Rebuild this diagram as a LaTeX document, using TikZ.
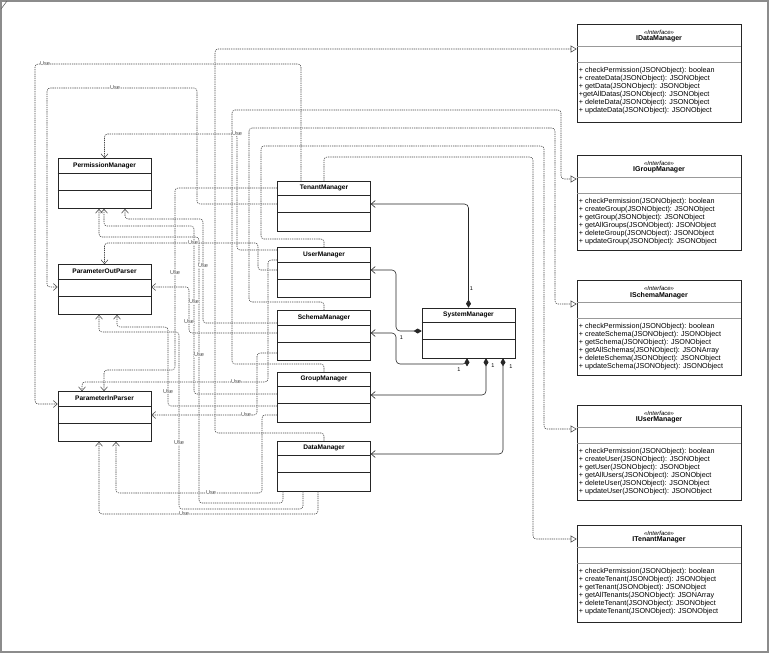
\documentclass[tikz,border=0pt]{standalone}
\usepackage{fontspec}
\setmainfont{Liberation Sans}
\usetikzlibrary{arrows.meta,calc}
\newcommand\umlclass[4]{%
  \node[cls] (#1) at (#2,#3) {};
  \node[ttl] (#1t) at ([yshift=-7.5pt]#1.north) {#4};
  \draw[div] ([yshift=-15pt]#1.north west) -- ([yshift=-15pt]#1.north east);
  \draw[div] ([yshift=-32pt]#1.north west) -- ([yshift=-32pt]#1.north east);}
\newcommand\umliface[5]{%
  \node[ifc,minimum height=#3pt] (#1) at (659,#2) {};
  \node[stereo] (#1s) at ([yshift=-8.5pt]#1.north) {<<Interface>>};
  \node[iname] (#1n) at ([yshift=-15.5pt]#1.north) {#4};
  \draw[gdiv] ([yshift=-23pt]#1.north west) -- ([yshift=-23pt]#1.north east);
  \draw[gdiv] ([yshift=-39pt]#1.north west) -- ([yshift=-39pt]#1.north east);
  \node[meth] (#1m) at ([xshift=2pt,yshift=-43.5pt]#1.north west) {#5};}
\begin{document}
\begin{tikzpicture}[x=1pt,y=-1pt,
  cls/.style={draw=black!85,line width=0.6pt,minimum width=93pt,minimum height=50pt,inner sep=0pt},
  ifc/.style={draw=black!85,line width=0.6pt,minimum width=164pt,inner sep=0pt},
  ttl/.style={font=\fontsize{6.6}{7}\selectfont\bfseries,inner sep=0pt},
  iname/.style={font=\fontsize{7}{8}\selectfont\bfseries,inner sep=0pt},
  stereo/.style={font=\fontsize{6}{7}\selectfont\itshape,inner sep=0pt},
  meth/.style={font=\fontsize{7.2}{7.9}\selectfont,align=left,anchor=north west,inner sep=0pt},
  div/.style={draw=black!85,line width=0.6pt},
  gdiv/.style={draw=black!40,line width=0.6pt},
  use/.style={draw=black!72,line width=0.55pt,dash pattern=on 1.3pt off 0.9pt,rounded corners=3pt,
     -{Straight Barb[length=4pt,width=7pt]}},
  real/.style={draw=black!72,line width=0.55pt,dash pattern=on 1.3pt off 0.9pt,rounded corners=3pt,
     -{Triangle[open,length=6pt,width=7pt]}},
  comp/.style={draw=black!85,line width=0.6pt,rounded corners=4pt,
     {Diamond[length=8pt,width=5pt]}-{Straight Barb[length=4pt,width=7pt]}},
  ulab/.style={font=\fontsize{5.6}{6}\selectfont,text=black!70,fill=white,inner sep=0.3pt},
  mult/.style={font=\fontsize{5.5}{6}\selectfont,inner sep=0pt}]
\useasboundingbox (0,0) rectangle (770,654);
\draw[black!45,line width=1.3pt] (1,1) rectangle (768,652);
\draw[black!60,line width=0.6pt] (1,9) -- (7,1);

% classes
\umlclass{perm}{104.5}{183.5}{PermissionManager}
\umlclass{pout}{104.5}{289.5}{ParameterOutParser}
\umlclass{pin}{104.5}{416.5}{ParameterInParser}
\umlclass{tenant}{324}{206}{TenantManager}
\umlclass{user}{324}{272.5}{UserManager}
\umlclass{schema}{324}{335.5}{SchemaManager}
\umlclass{group}{324}{397}{GroupManager}
\umlclass{data}{324}{466}{DataManager}
\umlclass{sys}{468.5}{333}{SystemManager}

% interfaces
\umliface{idata}{73}{98}{IDataManager}{+ checkPermission(JSONObject): boolean\\+ createData(JSONObject): JSONObject\\+ getData(JSONObject): JSONObject\\+getAllDatas(JSONObject): JSONObject\\+ deleteData(JSONObject): JSONObject\\+ updateData(JSONObject): JSONObject}
\umliface{igroup}{202.5}{95}{IGroupManager}{+ checkPermission(JSONObject): boolean\\+ createGroup(JSONObject): JSONObject\\+ getGroup(JSONObject): JSONObject\\+ getAllGroups(JSONObject): JSONObject\\+ deleteGroup(JSONObject): JSONObject\\+ updateGroup(JSONObject): JSONObject}
\umliface{ischema}{327.5}{95}{ISchemaManager}{+ checkPermission(JSONObject): boolean\\+ createSchema(JSONObject): JSONObject\\+ getSchema(JSONObject): JSONObject\\+ getAllSchemas(JSONObject): JSONArray\\+ deleteSchema(JSONObject): JSONObject\\+ updateSchema(JSONObject): JSONObject}
\umliface{iuser}{452.5}{95}{IUserManager}{+ checkPermission(JSONObject): boolean\\+ createUser(JSONObject): JSONObject\\+ getUser(JSONObject): JSONObject\\+ getAllUsers(JSONObject): JSONObject\\+ deleteUser(JSONObject): JSONObject\\+ updateUser(JSONObject): JSONObject}
\umliface{itenant}{573.5}{97}{ITenantManager}{+ checkPermission(JSONObject): boolean\\+ createTenant(JSONObject): JSONObject\\+ getTenant(JSONObject): JSONObject\\+ getAllTenants(JSONObject): JSONArray\\+ deleteTenant(JSONObject): JSONObject\\+ updateTenant(JSONObject): JSONObject}

% compositions
\draw[comp] (sys.north) |- ([yshift=2pt]tenant.east);
\draw[comp] ([yshift=2pt]sys.west) -- (396,331) |- ([yshift=2.5pt]user.east);
\draw[comp] ([xshift=-1.5pt]sys.south) |- (396,364) |- ([yshift=2.5pt]schema.east);
\draw[comp] ([xshift=17.5pt]sys.south) |- ([yshift=2pt]group.east);
\draw[comp] ([xshift=34.5pt]sys.south) |- ([yshift=12pt]data.east);
\node[mult] (m1) at (471.5,289) {1};
\node[mult] (m2) at (401.5,337.5) {1};
\node[mult] (m3) at (459,370) {1};
\node[mult] (m4) at (493,366) {1};
\node[mult] (m5) at (511,367) {1};

% realizations
\draw[real] (tenant.north) -- (324,157) -| (533,539) -- (itenant.west |- 0,539);
\draw[real] (user.north) -- (324,239) -| (261,146) -| (544,429) -- (iuser.west |- 0,429);
\draw[real] (schema.north) -- (324,302) -| (249,128) -| (555,304) -- (ischema.west |- 0,304);
\draw[real] (group.north) -- (324,364) -| (232,110) -| (561,179) -- (igroup.west |- 0,179);
\draw[real] (data.north) -- (324,433) -| (215,49) -- (idata.west |- 0,49);

% use dependencies
% TenantManager
\draw[use] ([xshift=-23pt]tenant.north) |- (35,64) |- ([yshift=12.5pt]pin.west);
\draw[use] ([yshift=2pt]tenant.west) -| (197,88) -| (47,287) -- ([yshift=2.5pt]pout.west);
\draw[use] ([yshift=18pt]tenant.west) -| (175,370) -| ([xshift=-0.5pt]pin.north);
% UserManager
\draw[use] ([yshift=22.5pt]user.west) -| (237,134) -| (perm.north);
\draw[use] ([yshift=12.5pt]user.west) -| (268,382) -| ([xshift=-22.5pt]pin.north);
\draw[use] ([yshift=2.5pt]user.west) -| (258,243) -| (pout.north);
% SchemaManager
\draw[use] ([yshift=12.5pt]schema.west) -| (203,219) -| ([xshift=20.5pt]perm.south);
\draw[use] ([yshift=2.5pt]schema.west) -| (189,287) -- ([yshift=2.5pt]pout.east);
\draw[use] ([yshift=-17.5pt]schema.west) -| (257,415) -- ([yshift=1.5pt]pin.east);
% GroupManager
\draw[use] ([yshift=3pt]group.west) -| (194,226) -| ([xshift=-0.5pt]perm.south);
\draw[use] ([yshift=-9pt]group.west) -| (168,327) -| ([xshift=12.5pt]pout.south);
\draw[use] ([yshift=-18pt]group.west) -| (262,493) -| ([xshift=11.5pt]pin.south);
% DataManager
\draw[use] ([xshift=-41pt]data.south) |- (199,503) |- (99,237) -- ([xshift=-5.5pt]perm.south);
\draw[use] ([xshift=-21pt]data.south) |- (179,509) |- (99,332) -- ([xshift=-5.5pt]pout.south);
\draw[use] ([xshift=-6pt]data.south) |- (99,514) -- ([xshift=-5.5pt]pin.south);

% labels
\node[ulab] (l1) at (45,64) {Use};
\node[ulab] (l2) at (115,88) {Use};
\node[ulab] (l3) at (175,273) {Use};
\node[ulab] (l4) at (237,134) {Use};
\node[ulab] (l5) at (236,382) {Use};
\node[ulab] (l6) at (193,243) {Use};
\node[ulab] (l7) at (203,266) {Use};
\node[ulab] (l8) at (189,322) {Use};
\node[ulab] (l9) at (246,415) {Use};
\node[ulab] (l10) at (194,302) {Use};
\node[ulab] (l11) at (168,392) {Use};
\node[ulab] (l12) at (211,493) {Use};
\node[ulab] (l13) at (199,355) {Use};
\node[ulab] (l14) at (179,443) {Use};
\node[ulab] (l15) at (184,514) {Use};
\end{tikzpicture}
\end{document}
